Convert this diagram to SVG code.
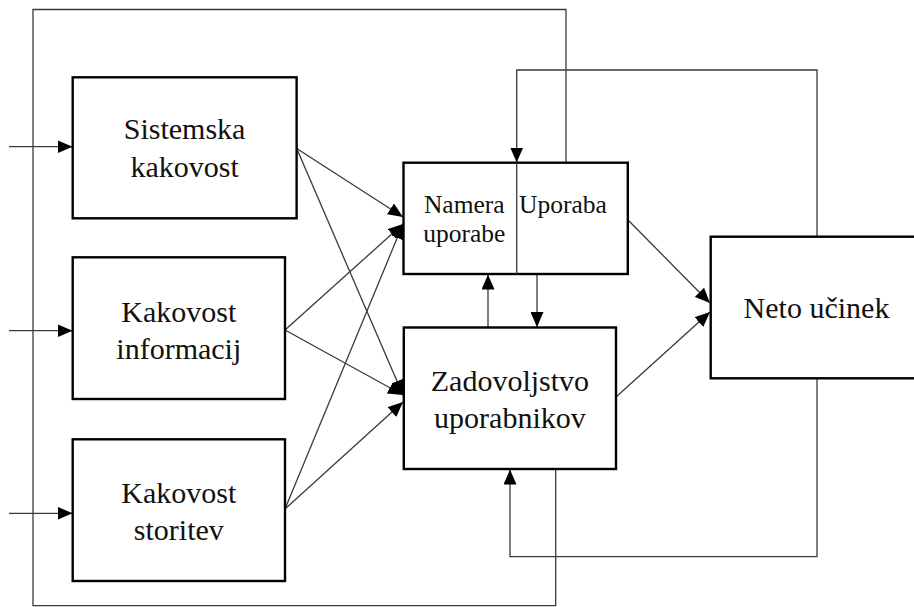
<svg xmlns="http://www.w3.org/2000/svg" width="914" height="607" viewBox="0 0 914 607">
  <style>
    .box { fill: #ffffff; stroke: #000000; stroke-width: 2.4; }
    .lbl { font-family: "Liberation Serif", "Times New Roman", serif; font-size: 30px; fill: #111111; text-anchor: middle; }
    .small { font-size: 25.5px; }
    .wire { fill: none; stroke: #3a3a3a; stroke-width: 1.3; }
    .arr { marker-end: url(#head); }
  </style>
  <defs>
    <marker id="head" viewBox="0 0 15 13" refX="15" refY="6.5" markerWidth="15" markerHeight="13" markerUnits="userSpaceOnUse" orient="auto">
      <path d="M0,0 L15,6.5 L0,13 z" fill="#000000"/>
    </marker>
  </defs>
  <rect width="914" height="607" fill="#ffffff"/>

  <!-- connectors -->
  <g id="connectors">
    <!-- outer feedback loop from satisfaction back to use -->
    <polyline class="wire" points="555.7,469 555.7,605.7 33,605.7 33,9.5 566,9.5 566,162.5"/>
    <!-- net benefits back to intention / use -->
    <polyline class="wire arr" points="817,236.7 817,70 516.7,70 516.7,162.5"/>
    <!-- net benefits back to user satisfaction -->
    <polyline class="wire arr" points="817,378.3 817,556.7 510,556.7 510,469.5"/>
    <!-- external inputs -->
    <line class="wire arr" x1="9" y1="146.7" x2="72.5" y2="146.7"/>
    <line class="wire arr" x1="9" y1="330.7" x2="72.5" y2="330.7"/>
    <line class="wire arr" x1="9" y1="513.3" x2="72.5" y2="513.3"/>
    <!-- quality dimensions to use and satisfaction -->
    <line class="wire arr" x1="296.7" y1="148.5" x2="403" y2="217"/>
    <line class="wire arr" x1="296.7" y1="148.5" x2="403" y2="395"/>
    <line class="wire arr" x1="285" y1="330" x2="403" y2="224"/>
    <line class="wire arr" x1="285" y1="330" x2="403" y2="395"/>
    <line class="wire arr" x1="285" y1="509" x2="403" y2="224"/>
    <line class="wire arr" x1="285" y1="509" x2="403" y2="402"/>
    <!-- between use and satisfaction -->
    <line class="wire arr" x1="488" y1="327.5" x2="488" y2="274.5"/>
    <line class="wire arr" x1="537" y1="274" x2="537" y2="327"/>
    <!-- to net benefits -->
    <line class="wire arr" x1="628" y1="220" x2="710" y2="303"/>
    <line class="wire arr" x1="616" y1="397" x2="710" y2="312"/>
  </g>

  <g id="sistemska-kakovost">
    <rect class="box" x="72.7" y="77.3" width="223.9" height="141"/>
    <text class="lbl" x="184.6" y="139">Sistemska</text>
    <text class="lbl" x="184.6" y="176.7">kakovost</text>
  </g>

  <g id="kakovost-informacij">
    <rect class="box" x="72.7" y="257.3" width="212.3" height="141.7"/>
    <text class="lbl" x="178.8" y="321.7">Kakovost</text>
    <text class="lbl" x="178.8" y="359.3">informacij</text>
  </g>

  <g id="kakovost-storitev">
    <rect class="box" x="72.7" y="439.3" width="212.3" height="141.7"/>
    <text class="lbl" x="178.8" y="502.7">Kakovost</text>
    <text class="lbl" x="178.8" y="540">storitev</text>
  </g>

  <g id="namera-uporaba">
    <rect class="box" x="403.5" y="162.7" width="224.3" height="111.3"/>
    <line class="wire" x1="516.7" y1="162.7" x2="516.7" y2="274"/>
    <text class="lbl small" x="464.3" y="212.7">Namera</text>
    <text class="lbl small" x="464.3" y="241.7">uporabe</text>
    <text class="lbl small" x="563" y="212.7">Uporaba</text>
  </g>

  <g id="zadovoljstvo-uporabnikov">
    <rect class="box" x="403.8" y="327.5" width="212.2" height="141.5"/>
    <text class="lbl" x="509.9" y="391">Zadovoljstvo</text>
    <text class="lbl" x="509.9" y="428.3">uporabnikov</text>
  </g>

  <g id="neto-ucinek">
    <rect class="box" x="710.7" y="236.7" width="230" height="141.6"/>
    <text class="lbl" x="816.5" y="318.3">Neto učinek</text>
  </g>
</svg>
